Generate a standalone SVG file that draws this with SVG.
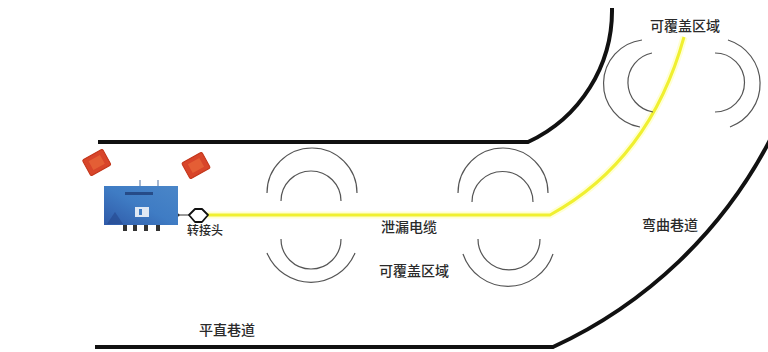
<svg xmlns="http://www.w3.org/2000/svg" width="768" height="352" viewBox="0 0 768 352">
  <style>
    .wall { fill: none; stroke: #111; stroke-width: 4; stroke-linejoin: round; }
    .arc { fill: none; stroke: #555; stroke-width: 1.2; }
    .lbl { font-family: "Noto Sans CJK SC", "Liberation Serif", serif; font-size: 14px; font-weight: 500; fill: #2a2a2a; text-anchor: middle; }
    .lamp { fill: #d8452a; stroke: #c23418; stroke-width: 1; }
    .lamp-in { fill: #ea6a3a; opacity: 0.7; }
  </style>
  <defs>
    <linearGradient id="boxFill" x1="0" y1="1" x2="1" y2="0">
      <stop offset="0" stop-color="#2f5aa8"/>
      <stop offset="0.5" stop-color="#3f7cc4"/>
      <stop offset="1" stop-color="#4a86c8"/>
    </linearGradient>
  </defs>

  <rect width="768" height="352" fill="#fff"/>

  <!-- tunnel walls -->
  <g id="walls">
    <path class="wall" d="M98,142 H528 A145,145 0 0 0 612,8"/>
    <path class="wall" d="M95,347 H553 A462,462 0 0 0 770,140"/>
  </g>

  <!-- leaky cable -->
  <g id="connectors">
    <path d="M207,215 H550 Q650,160 684,37" fill="none" stroke="#ffff80" stroke-width="7" opacity="0.35"/>
    <path d="M207,215 H550 Q650,160 684,37" fill="none" stroke="#f0f030" stroke-width="3"/>
    <line x1="178" y1="215" x2="189" y2="215" stroke="#333" stroke-width="1"/>
    <circle cx="178" cy="215" r="1.5" fill="#333"/>
  </g>

  <!-- coverage rings along the straight section -->
  <g id="coverage-left">
    <path class="arc" d="M267,193 A45,45 0 0 1 357,193"/>
    <path class="arc" d="M281,201 A30,30 0 0 1 341,201"/>
    <path class="arc" d="M281,239 A30,30 0 0 0 341,239"/>
    <path class="arc" d="M267,253 A47.7,47.7 0 0 0 355,253"/>
  </g>
  <g id="coverage-middle">
    <path class="arc" d="M458,193 A45,45 0 0 1 548,193"/>
    <path class="arc" d="M472,202 A30.5,30.5 0 0 1 533,202"/>
    <path class="arc" d="M478,239 A31,31 0 0 0 540,239"/>
    <path class="arc" d="M463,254 A47.5,47.5 0 0 0 553,254"/>
  </g>
  <!-- coverage rings on the bend -->
  <g id="coverage-bend">
    <path class="arc" d="M642,40 A44,44 0 0 0 640,127"/>
    <path class="arc" d="M652,53 A30,30 0 0 0 653,112"/>
    <path class="arc" d="M715,53 A29,29 0 0 1 715,112"/>
    <path class="arc" d="M728,40 A46,46 0 0 1 730,127"/>
  </g>

  <!-- base station unit -->
  <g id="base-station">
    <line x1="140" y1="187" x2="140" y2="180" stroke="#8aa0c0" stroke-width="1.5"/>
    <line x1="158" y1="187" x2="158" y2="180" stroke="#8aa0c0" stroke-width="1.5"/>
    <rect x="104" y="186" width="74" height="39" fill="url(#boxFill)"/>
    <rect x="125" y="192" width="28" height="3" fill="#1f3f78" opacity="0.8"/>
    <rect x="135" y="207" width="14" height="10" fill="#dfe8f4"/>
    <rect x="139" y="209" width="3" height="6" fill="#3f7cc4"/>
    <path d="M107,224 L115,212 L123,224 Z" fill="#25488e" opacity="0.6"/>
    <rect x="123" y="225" width="4" height="6" fill="#333"/>
    <rect x="133" y="225" width="4" height="6" fill="#333"/>
    <rect x="144" y="225" width="4" height="6" fill="#333"/>
    <rect x="156" y="225" width="4" height="6" fill="#333"/>
  </g>

  <!-- warning lamps -->
  <g id="lamp-left">
    <g transform="translate(96.7,162.5) rotate(-29)">
      <rect class="lamp" x="-11.5" y="-9" width="23" height="18" rx="1.5"/>
      <rect class="lamp-in" x="-6.5" y="-5" width="13" height="10"/>
    </g>
  </g>
  <g id="lamp-right">
    <g transform="translate(196,165.5) rotate(-29)">
      <rect class="lamp" x="-11.5" y="-9" width="23" height="18" rx="1.5"/>
      <rect class="lamp-in" x="-6.5" y="-5" width="13" height="10"/>
    </g>
  </g>

  <!-- adapter -->
  <g id="adapter">
    <path d="M189,215 L195,209 H202 L208,215 L202,222 H195 Z" fill="#fff" stroke="#111" stroke-width="1.8" stroke-linejoin="round"/>
    <text class="lbl" x="205" y="235" style="font-size:12px">转接头</text>
  </g>

  <!-- labels -->
  <g id="labels">
    <text class="lbl" x="409" y="232">泄漏电缆</text>
    <text class="lbl" x="414" y="276">可覆盖区域</text>
    <text class="lbl" x="685" y="31">可覆盖区域</text>
    <text class="lbl" x="670" y="230">弯曲巷道</text>
    <text class="lbl" x="227" y="335">平直巷道</text>
  </g>
</svg>
